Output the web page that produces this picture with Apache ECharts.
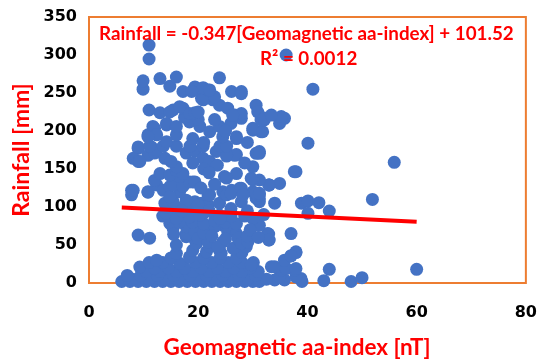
<!DOCTYPE html>
<html>
<head>
<meta charset="utf-8">
<script src="https://cdn.jsdelivr.net/npm/echarts@6/dist/echarts.min.js"></script>
<style>html,body{margin:0;padding:0;background:#fff;}#c{width:540px;height:361px;}</style>
</head>
<body>
<div id="c"></div>
<script>
// aa-index (nT) values of points
const aaIndex = [
 6,7.5,9,10.5,12,13.5,15,16.5,18,19.5,21,22.5,24,25.5,27,28.5,30,31.2,34,39,43,48,
 8,11,14,17,20,23,26,29,32.5,35.8,38.8,
 7,9.5,12.5,15.5,18.5,21.5,24.5,27.5,30.5,34.9,37.9,50,
 10.5,13,16,19,22,25,28,31,35.2,37.6,
 9.3,12,14.5,17.5,20.5,23.5,26.5,29.5,33.4,34,36.1,37.9,44,
 11,13.5,16.6,19.5,22.5,25.5,28,30.1,35.8,
 12.4,15,18.4,21,24,27,29.7,
 16,19,21.5,23.9,24.2,28,37.9,37,
 9,11.1,17.8,19.4,20.9,22.1,24.5,26.4,27.6,28.8,19.7,17.8,18.4,14.8,15.4,17.8,19.7,22.7,24.5,26.4,30.9,32.7,33,37,32.9,32.9,19.4,20,23,25.4,27,27.3,21.8,23.6,27.9,29.1,37.9,37,31.2,16,21,29,
 15,16.5,19,21,23,25,27,28.5,30,18,21,26,13.5,15.5,22.5,25,29.5,31,
 14.2,16,18.4,20.3,23.9,25.8,14.2,16,18.4,19.4,20.6,21.8,23.9,27.9,31.2,34,38.9,13.9,15.4,17.8,20,40.1,42.1,51.9,40.1,44,31.2,30.6,22,26,29,32,17,24,
 7.8,7.8,10.8,8.1,10.8,12.4,13.6,14.8,16.6,19,21.8,24.5,26.1,27.6,30,31.2,33,14.8,15.4,17.2,18.4,22.1,25.2,26,27.9,28.2,30.6,31.2,33,34.9,32.9,31.2,30,29.7,24.8,16.6,19.4,20.5,23,12,
 13,14.8,16,17.2,27,25.2,37.9,37.6,30,16,17.8,19.4,20.9,22.1,23.3,25.2,27,31.2,9,11.4,8.1,9,10.8,12,13.9,12.4,9.3,26.7,25.2,30.6,31.2,55.9,9,11.1,13.6,16,18.5,20.9,24,25.2,21,23.5,19,28.5,15,22,
 10.8,12,14.2,16,14.2,11.7,14.2,12.4,10.8,16,18.4,20.3,22.1,23.9,24.5,27,30,31.5,27,30,31.8,27.9,31.5,35.8,34.9,40.1,32.1,19,21,23,26,17.5,20,25,29,
 11,13,15.4,17.2,18.4,19.4,20.6,22.7,23.9,25.4,26.7,27.9,30.6,30.9,35.2,14.8,16.6,20,20.9,23,26.3,32.1,33.4,9.9,17.2,19.1,19.4,21.8,26.1,27.9,27.9,14.8,20.9,22.1,18.8,
 11,11,9.9,13,16,23.9,36.1,41,60
];
// rainfall (mm) values of points, same order
const rainfall = [
 2,2,2,2,2,2,2,2,2,2,2,2,2,2,2,2,2,2,4,2,3,2,
 5,5,5,5,5,5,5,5,5,4,6,
 10,10,10,10,10,10,10,10,10,8,8,7,
 15,15,15,15,15,15,15,15,17,17,
 21,20,20,20,20,20,20,20,21.5,21.5,19,19,18,
 27,27,26,27,27,27,27,27,30,
 30,33,34.5,33,33,33,24,
 39,43,41,43,39,40,41,36,
 63,59,61,56.6,58.8,47.8,54,45.6,56.6,47.8,52,65,74,78.5,72,74,72,74,76,70,76,65,56.6,65,64.5,56.6,67.5,58.8,74,67.5,65,58.8,54,47.8,52,54,40,35.5,76,50,66,62,
 95,80,80,78,82,80,78,88,85,92,92,88,88,64,62,58,70,60,
 91.7,85,87,89.5,89.5,91.7,100,100,100,107,105,102.6,105,107,107,105,105,105,107,109,102.6,108,105.7,110,91.7,94.7,111,111.5,95,98,95,90,95,85,
 122,116,119.5,122,120,129,122,127,120,133,116,120,122,124.6,120,116,129,113.5,129,127,133,116,116,118,124.6,116,118,118,129,131,129,135.5,135.5,137.8,140,140,133,125,130,135,
 144,142,148,144,144,138,146.5,146.5,153,153,171,173,164,160,173,167,169,173,177,179,164,160,168,171,164,175,160,168,168,170.6,170.6,158.8,179,180,180,180,180,180,180,180,150,155,158,158,160,145,
 195,203.5,208,195,186,206,210,195,192.5,206,212,206,199,206,192.5,192.5,201,199,190,203.5,199,216.7,214.5,216.7,210,184,214.5,190,185,215,210,218,215,200,185,
 227.6,224,227.6,230,223,224,243,241,234,230,221,223,234,225,219,225,232,225,241,245,221,217,221,255,252,254,258,254,252,252,249,259,257,254,252,
 313,294.7,266,269,271,270,300,255,18
];
const trendSlope = [-0.347];
const trendIntercept = [101.52];
const xTicks = [0, 20, 40, 60, 80];
const yTicks = [0, 50, 100, 150, 200, 250, 300, 350];

const pts = aaIndex.map((x, i) => [x, rainfall[i]]);
const xMin = Math.min(...aaIndex), xMax = Math.max(...aaIndex);
const trend = [xMin, xMax].map(x => [x, trendSlope[0] * x + trendIntercept[0]]);

const chart = echarts.init(document.getElementById('c'), null, {renderer: 'canvas'});
const font = 'Lato, "Open Sans", "Liberation Sans", sans-serif';
const tickFont = '"DejaVu Sans", sans-serif';
chart.setOption({
  animation: false,
  backgroundColor: '#ffffff',
  grid: {left: 89, right: 13, top: 17, bottom: 78, show: true, borderColor: '#ED7D31', borderWidth: 2, backgroundColor: 'transparent'},
  xAxis: {
    type: 'value', min: xTicks[0], max: xTicks[xTicks.length - 1], interval: 20,
    axisLine: {show: false}, axisTick: {show: false}, splitLine: {show: false},
    axisLabel: {fontFamily: tickFont, fontWeight: 'bold', fontSize: 16, color: '#000', margin: 22}
  },
  yAxis: {
    type: 'value', min: yTicks[0], max: yTicks[yTicks.length - 1], interval: 50,
    axisLine: {show: false}, axisTick: {show: false}, splitLine: {show: false},
    axisLabel: {fontFamily: tickFont, fontWeight: 'bold', fontSize: 16, color: '#000', margin: 12}
  },
  series: [
    {type: 'scatter', data: pts, symbolSize: 13, itemStyle: {color: '#4472C4', opacity: 1}, z: 2},
    {type: 'line', data: trend, showSymbol: false, symbol: 'none', lineStyle: {color: '#FF0000', width: 4}, z: 3}
  ],
  graphic: [
    {type: 'text', left: 99, top: 24, style: {text: 'Rainfall = -0.347[Geomagnetic aa-index] + 101.52', fontFamily: font, fontWeight: 'bold', fontSize: 18.8, fill: '#FF0000'}, z: 10},
    {type: 'text', left: 260, top: 49, style: {text: 'R² = 0.0012', fontFamily: font, fontWeight: 'bold', fontSize: 18.8, fill: '#FF0000'}, z: 10},
    {type: 'text', x: 297, y: 348, style: {text: 'Geomagnetic aa-index [nT]', fontFamily: font, fontWeight: 'bold', fontSize: 22.5, fill: '#FF0000', align: 'center', verticalAlign: 'middle'}},
    {type: 'text', x: 22, y: 150, rotation: Math.PI / 2, style: {text: 'Rainfall [mm]', fontFamily: font, fontWeight: 'bold', fontSize: 23, fill: '#FF0000', align: 'center', verticalAlign: 'middle'}}
  ]
});
</script>
</body>
</html>
